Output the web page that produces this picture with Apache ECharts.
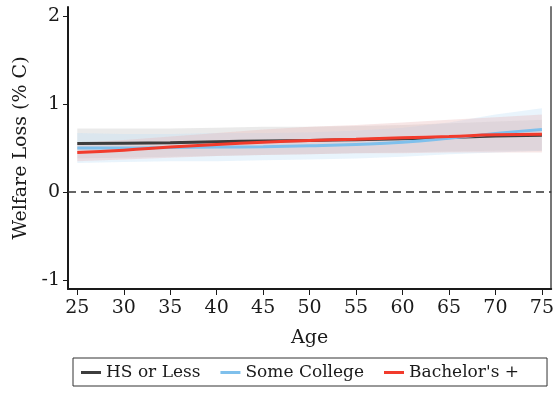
<!DOCTYPE html>
<html><head><meta charset="utf-8">
<script src="https://cdn.jsdelivr.net/npm/echarts@6/dist/echarts.min.js"></script>
<style>html,body{margin:0;padding:0;background:#fff}#c{width:557px;height:394px}</style>
</head><body><div id="c"></div>
<script>
const ages = [25,30,35,40,45,50,55,60,65,70,75];
const seriesNames = ["HS or Less","Some College","Bachelor's +"];
const hsMean   = [0.55,0.555,0.56,0.57,0.58,0.585,0.595,0.605,0.62,0.635,0.645];
const hsLow    = [0.38,0.39,0.40,0.41,0.42,0.43,0.44,0.45,0.46,0.47,0.47];
const hsHigh   = [0.72,0.72,0.72,0.73,0.74,0.74,0.75,0.76,0.78,0.80,0.82];
const scMean   = [0.50,0.50,0.505,0.51,0.515,0.525,0.54,0.565,0.61,0.665,0.71];
const scLow    = [0.33,0.34,0.35,0.35,0.36,0.37,0.38,0.40,0.43,0.45,0.47];
const scHigh   = [0.67,0.66,0.66,0.67,0.67,0.68,0.70,0.73,0.79,0.88,0.95];
const baMean   = [0.45,0.475,0.51,0.54,0.565,0.585,0.60,0.615,0.63,0.65,0.655];
const baLow    = [0.35,0.37,0.39,0.41,0.42,0.43,0.44,0.44,0.45,0.45,0.45];
const baHigh   = [0.56,0.59,0.63,0.67,0.71,0.74,0.76,0.79,0.82,0.85,0.88];
const xTicks = [25,30,35,40,45,50,55,60,65,70,75];
const yTicks = [-1,0,1,2];

const font = "'DejaVu Serif', 'Liberation Serif', serif";
const txt = '#1a1a1a';
const pairs = a => ages.map((x,i)=>[x,a[i]]);

function band(low, high, color, opacity){
  return {
    type:'custom', silent:true, z:1,
    data: ages.map((x,i)=>[x, low[i], high[i]]),
    encode:{x:0, y:[1,2]},
    renderItem:function(params, api){
      if (params.dataIndex !== 0) return null;
      const pts = [];
      for (let i=0;i<ages.length;i++) pts.push(api.coord([ages[i], high[i]]));
      for (let i=ages.length-1;i>=0;i--) pts.push(api.coord([ages[i], low[i]]));
      return {type:'polygon', shape:{points:pts}, style:{fill:color, opacity:opacity}};
    }
  };
}
function line(name, data, color){
  return {name:name, type:'line', data:pairs(data), symbol:'none', smooth:true,
    lineStyle:{color:color, width:3}, itemStyle:{color:color}, z:5};
}

const chart = echarts.init(document.getElementById('c'));
chart.setOption({
  animation:false,
  grid:{left:68, right:4, top:7, bottom:105},
  xAxis:{type:'value', min:24, max:76, name:'Age', nameLocation:'middle', nameGap:40,
    nameTextStyle:{fontFamily:font, fontSize:19, color:txt},
    axisLine:{onZero:false, lineStyle:{color:txt, width:2}},
    axisTick:{show:true, length:6, lineStyle:{color:txt}, customValues:xTicks},
    axisLabel:{fontFamily:font, fontSize:19, color:txt, margin:10, customValues:xTicks},
    splitLine:{show:false}},
  yAxis:[{type:'value', min:-1.1, max:2.1, name:'Welfare Loss (% C)', nameLocation:'middle', nameGap:36,
    nameTextStyle:{fontFamily:font, fontSize:19, color:txt},
    axisLine:{show:true, onZero:false, lineStyle:{color:txt, width:2}},
    axisTick:{show:true, length:5, lineStyle:{color:txt}, customValues:yTicks},
    axisLabel:{fontFamily:font, fontSize:19, color:txt, margin:8, customValues:yTicks},
    splitLine:{show:false}},
   {type:'value', min:-1.1, max:2.1, position:'right',
    axisLine:{show:true, onZero:false, lineStyle:{color:'#777', width:2}},
    axisTick:{show:false}, axisLabel:{show:false}, splitLine:{show:false}}],
  legend:{data:seriesNames, left:73, top:358, padding:[6,28,5,8], itemGap:20,
    borderColor:'#333', borderWidth:1, borderRadius:0, icon:'rect', itemWidth:20, itemHeight:3,
    textStyle:{fontFamily:font, fontSize:17, color:txt}},
  series:[
    band(hsLow, hsHigh, '#c8c8c8', 0.38),
    band(scLow, scHigh, '#bfe0f5', 0.35),
    band(baLow, baHigh, '#e8b8b8', 0.35),
    Object.assign(line(seriesNames[0], hsMean, '#3d3d3d'), {markLine:{silent:true, symbol:'none', label:{show:false},
      lineStyle:{color:'#333', type:[8,5], width:1.5}, data:[{yAxis:0}]}}),
    line(seriesNames[1], scMean, '#7fc0ec'),
    line(seriesNames[2], baMean, '#f23b2c')
  ]
});
</script></body></html>
